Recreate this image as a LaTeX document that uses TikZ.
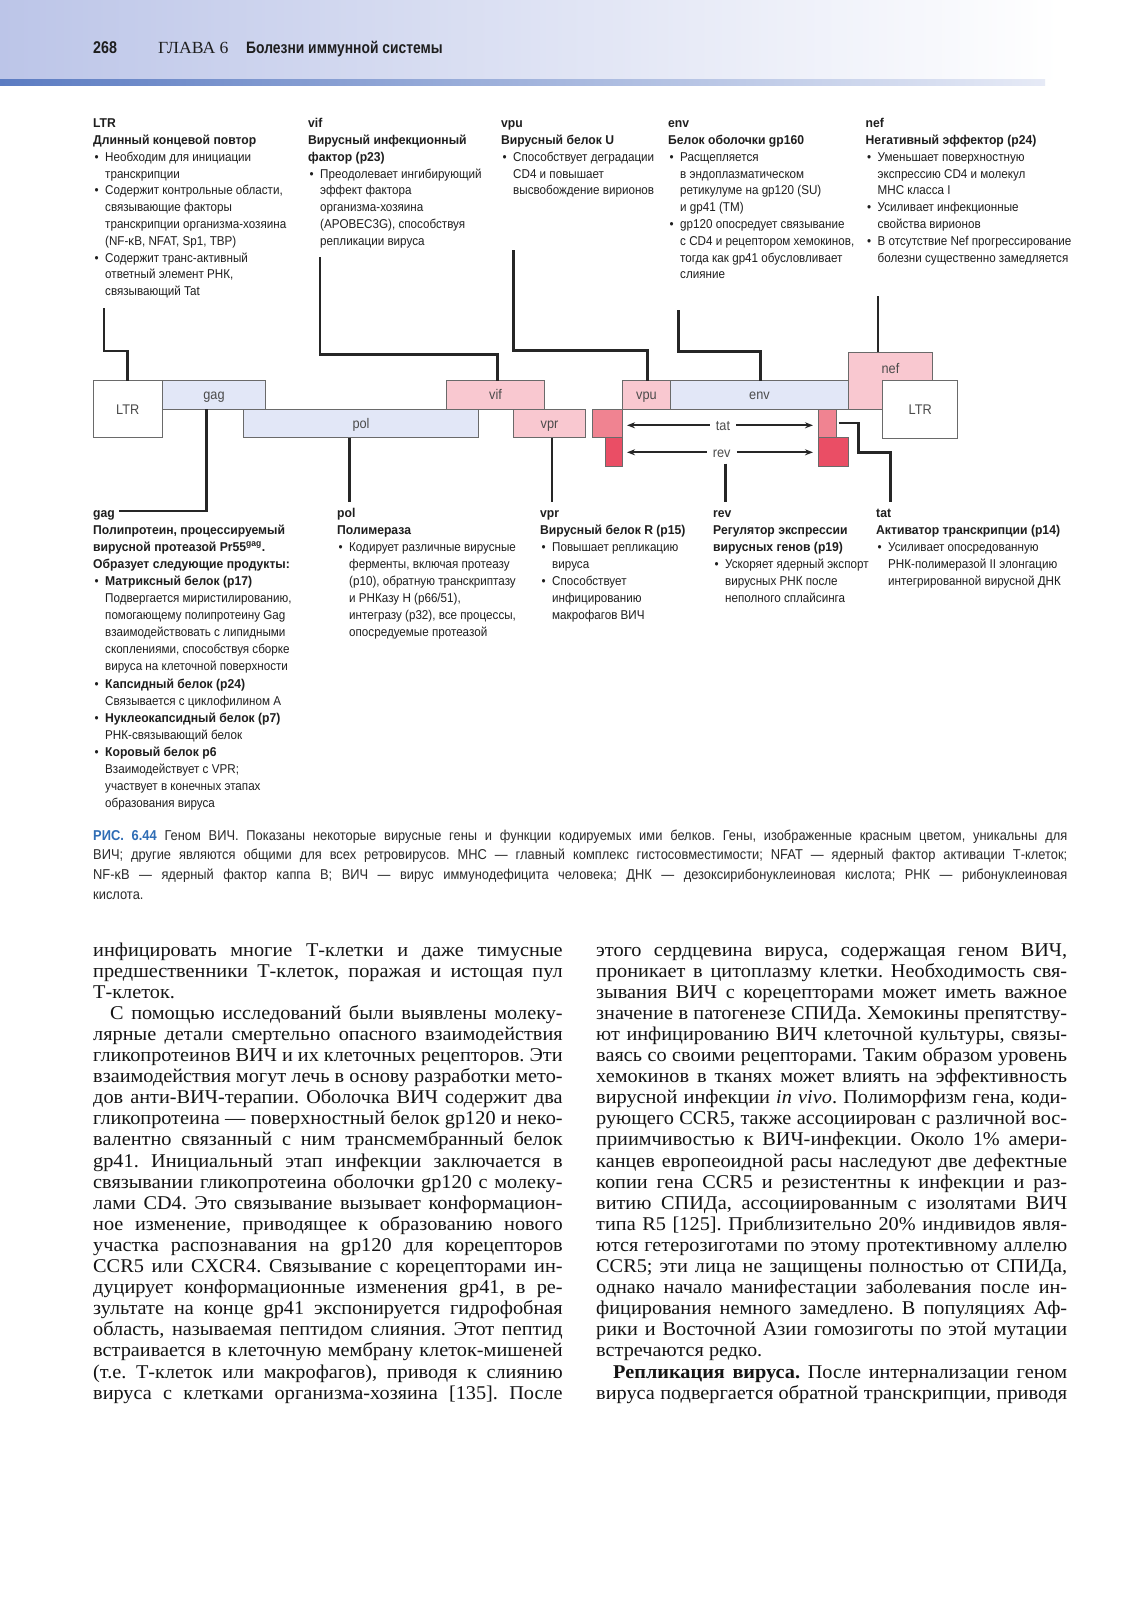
\documentclass[tikz,border=0pt]{standalone}
\usepackage{fontspec}
\setmainfont{Liberation Serif}[FakeStretch=1.04]
\newfontfamily\cond{Liberation Sans}[FakeStretch=0.91, BoldFeatures={FakeStretch=0.95}]
\newfontfamily\hdrf{Liberation Sans}[FakeStretch=0.84]
\newfontfamily\capf{Liberation Sans}[FakeStretch=0.9]
\usetikzlibrary{arrows.meta}
\definecolor{gblue}{HTML}{E2E7F7}
\definecolor{gpink}{HTML}{F9C8D0}
\definecolor{gtat}{HTML}{F08391}
\definecolor{grev}{HTML}{EA4E65}
\definecolor{boxgray}{HTML}{6A6A6A}
\definecolor{figtext}{HTML}{1E1E1E}
\definecolor{bodytext}{HTML}{141414}
\definecolor{captext}{HTML}{2A2A2A}
\definecolor{capblue}{HTML}{2F6DB5}
\definecolor{hdrL}{HTML}{BCC5E8}
\definecolor{barL}{HTML}{5C7CC2}
\definecolor{barR}{HTML}{E6EAF6}
\frenchspacing
\newcommand{\figfont}{\cond\fontsize{12.8}{16.8}\selectfont}
\newcommand{\botfont}{\cond\fontsize{12.8}{17.1}\selectfont}
\newcommand{\boxfont}{\cond\fontsize{14}{16}\selectfont}
\newcommand{\bodyfont}{\fontsize{19.5}{21.1}\selectfont}
\newcommand{\capfont}{\capf\fontsize{14.3}{19.8}\selectfont}
\newcommand{\bul}{\makebox[12pt][l]{\hspace{1.5pt}\textbullet}}
\newcommand{\hind}{\hspace*{12pt}}
\newcommand{\jl}[1]{\makebox[\linewidth][s]{#1}}
\newcommand{\jli}[1]{\hspace*{17pt}\makebox[\dimexpr\linewidth-17pt\relax][s]{#1}}
\begin{document}
\begin{tikzpicture}[x=1pt,y=-1pt,
  gbox/.style={draw=boxgray, line width=0.9pt, inner sep=0pt, outer sep=0pt, font=\boxfont, text=figtext!80, text height=10pt, text depth=0pt},
  boxtext/.style={inner sep=6pt, font=\boxfont, text=figtext!80, text height=10pt, text depth=0pt},
  conn/.style={line width=2.6pt, draw=black!85, line join=miter},
  arr/.style={line width=2.3pt, draw=black!85, -{Stealth[length=8pt,width=6pt]}},
  col/.style={anchor=base west, inner sep=0pt, text=figtext},
  bcol/.style={anchor=base west, inner sep=0pt, text=bodytext}]
\useasboundingbox (0,0) rectangle (1131,1601);
\fill[white] (0,0) rectangle (1131,1601);
% header
\shade[left color=hdrL, right color=white] (0,0) rectangle (1060,79);
\shade[left color=barL, right color=barR] (0,79) rectangle (1045,85);
\node[col] (pnum) at (93,53) {\hdrf\fontsize{17}{20}\selectfont\bfseries 268};
\node[col] (chap) at (158,53) {\fontsize{17}{20}\selectfont ГЛАВА 6};
\node[col] (ctitle) at (246,53) {\hdrf\fontsize{16.5}{20}\selectfont\bfseries Болезни иммунной системы};

% top text columns
\node[col] (ltrtxt) at (93,127.7) {\parbox[t]{200pt}{\figfont\raggedright
\textbf{LTR}\\
\textbf{Длинный концевой повтор}\\
\bul Необходим для инициации\\
\hind транскрипции\\
\bul Содержит контрольные области,\\
\hind связывающие факторы\\
\hind транскрипции организма-хозяина\\
\hind (NF-κB, NFAT, Sp1, TBP)\\
\bul Содержит транс-активный\\
\hind ответный элемент РНК,\\
\hind связывающий Tat}};
\node[col] (viftxt) at (308,127.7) {\parbox[t]{180pt}{\figfont\raggedright
\textbf{vif}\\
\textbf{Вирусный инфекционный}\\
\textbf{фактор (p23)}\\
\bul Преодолевает ингибирующий\\
\hind эффект фактора\\
\hind организма-хозяина\\
\hind (APOBEC3G), способствуя\\
\hind репликации вируса}};
\node[col] (vputxt) at (501,127.7) {\parbox[t]{160pt}{\figfont\raggedright
\textbf{vpu}\\
\textbf{Вирусный белок U}\\
\bul Способствует деградации\\
\hind CD4 и повышает\\
\hind высвобождение вирионов}};
\node[col] (envtxt) at (668,127.7) {\parbox[t]{200pt}{\figfont\raggedright
\textbf{env}\\
\textbf{Белок оболочки gp160}\\
\bul Расщепляется\\
\hind в эндоплазматическом\\
\hind ретикулуме на gp120 (SU)\\
\hind и gp41 (TM)\\
\bul gp120 опосредует связывание\\
\hind с CD4 и рецептором хемокинов,\\
\hind тогда как gp41 обусловливает\\
\hind слияние}};
\node[col] (neftxt) at (865.5,127.7) {\parbox[t]{220pt}{\figfont\raggedright
\textbf{nef}\\
\textbf{Негативный эффектор (p24)}\\
\bul Уменьшает поверхностную\\
\hind экспрессию CD4 и молекул\\
\hind MHC класса I\\
\bul Усиливает инфекционные\\
\hind свойства вирионов\\
\bul В отсутствие Nef прогрессирование\\
\hind болезни существенно замедляется}};

% gene map
\node[gbox, fill=white, minimum width=69.5pt, minimum height=57pt] (ltrL) at (127.75,409) {LTR};
\node[gbox, fill=gblue, minimum width=103pt, minimum height=28.5pt] (gag) at (214,394.75) {gag};
\node[gbox, fill=gblue, minimum width=235pt, minimum height=28.5pt] (pol) at (361,423.25) {pol};
\node[gbox, fill=gpink, minimum width=98pt, minimum height=28.5pt] (vif) at (495.5,394.75) {vif};
\node[gbox, fill=gpink, minimum width=72pt, minimum height=28.5pt] (vpr) at (549.5,423.25) {vpr};
\node[gbox, fill=gtat, minimum width=30.5pt, minimum height=28.5pt] (tatA) at (607.25,423.25) {};
\node[gbox, fill=grev, minimum width=17.5pt, minimum height=28.5pt] (revA) at (613.75,451.75) {};
\node[gbox, fill=gpink, minimum width=48pt, minimum height=28.5pt] (vpu) at (646.5,394.75) {vpu};
\node[gbox, fill=gblue, minimum width=178pt, minimum height=28.5pt] (env) at (759.5,394.75) {env};
\node[gbox, fill=gpink, minimum width=84pt, minimum height=57pt] (nef) at (890.5,380.5) {};
\node[boxtext] (neflbl) at (890.5,368) {nef};
\node[gbox, fill=white, minimum width=75pt, minimum height=57.5pt] (ltrR) at (920.25,409.25) {LTR};
\node[gbox, fill=gtat, minimum width=18.4pt, minimum height=28pt] (tatB) at (827.5,423) {};
\node[gbox, fill=grev, minimum width=30.4pt, minimum height=29pt] (revB) at (833.5,451.5) {};

\node[boxtext] (tatlbl) at (723,425.3) {tat};
\node[boxtext] (revlbl) at (721.7,452.3) {rev};
\coordinate (tatLend) at (627,425.3);
\coordinate (tatRend) at (813,425.3);
\coordinate (revLend) at (627,452.3);
\coordinate (revRend) at (813,452.3);
\draw[arr] (tatlbl.west) -- (tatLend);
\draw[arr] (tatlbl.east) -- (tatRend);
\draw[arr] (revlbl.west) -- (revLend);
\draw[arr] (revlbl.east) -- (revRend);

% top connectors
\coordinate (ltrS) at (104,308);
\coordinate (vifS) at (320,257);
\coordinate (vpuS) at (513.3,250);
\coordinate (envS) at (678.3,310);
\coordinate (nefS) at (878,296);
\draw[conn] (ltrS) -- (104,351) -| (ltrL.north);
\draw[conn] (vifS) -- (320,354.3) -| ([xshift=2pt]vif.north);
\draw[conn] (vpuS) -- (513.3,350.7) -| ([xshift=1pt]vpu.north);
\draw[conn] (envS) -- (678.3,351.7) -| ([xshift=1pt]env.north);
\draw[conn] (nefS) -- (nefS |- nef.north);

% bottom connectors
\coordinate (gagE) at (119,511);
\coordinate (polE) at (349.3,501.7);
\coordinate (vprE) at (552,501.7);
\coordinate (revE) at (725.3,501.7);
\coordinate (tatE) at (890.7,501.7);
\draw[conn] (206.7,0 |- gag.south) -- (206.7,511) -- (gagE);
\draw[conn] (polE |- pol.south) -- (polE);
\draw[conn] (vprE |- vpr.south) -- (vprE);
\draw[conn] (revE |- revlbl.south) -- (revE);
\draw[conn] ([xshift=2pt]tatB.east) -| (858.7,452.3) -| (tatE);

% bottom text columns
\node[col] (gagtxt) at (93,517) {\parbox[t]{230pt}{\botfont\raggedright
\textbf{gag}\\
\textbf{Полипротеин, процессируемый}\\
\textbf{вирусной протеазой Pr55\textsuperscript{gag}.}\\
\textbf{Образует следующие продукты:}\\
\bul\textbf{Матриксный белок (p17)}\\
\hind Подвергается миристилированию,\\
\hind помогающему полипротеину Gag\\
\hind взаимодействовать с липидными\\
\hind скоплениями, способствуя сборке\\
\hind вируса на клеточной поверхности\\
\bul\textbf{Капсидный белок (p24)}\\
\hind Связывается с циклофилином А\\
\bul\textbf{Нуклеокапсидный белок (p7)}\\
\hind РНК-связывающий белок\\
\bul\textbf{Коровый белок p6}\\
\hind Взаимодействует с VPR;\\
\hind участвует в конечных этапах\\
\hind образования вируса}};
\node[col] (poltxt) at (337,517) {\parbox[t]{190pt}{\botfont\raggedright
\textbf{pol}\\
\textbf{Полимераза}\\
\bul Кодирует различные вирусные\\
\hind ферменты, включая протеазу\\
\hind (p10), обратную транскриптазу\\
\hind и РНКазу H (p66/51),\\
\hind интегразу (p32), все процессы,\\
\hind опосредуемые протеазой}};
\node[col] (vprtxt) at (540,517) {\parbox[t]{170pt}{\botfont\raggedright
\textbf{vpr}\\
\textbf{Вирусный белок R (p15)}\\
\bul Повышает репликацию\\
\hind вируса\\
\bul Способствует\\
\hind инфицированию\\
\hind макрофагов ВИЧ}};
\node[col] (revtxt) at (713,517) {\parbox[t]{170pt}{\botfont\raggedright
\textbf{rev}\\
\textbf{Регулятор экспрессии}\\
\textbf{вирусных генов (p19)}\\
\bul Ускоряет ядерный экспорт\\
\hind вирусных РНК после\\
\hind неполного сплайсинга}};
\node[col] (tattxt) at (876,517) {\parbox[t]{200pt}{\botfont\raggedright
\textbf{tat}\\
\textbf{Активатор транскрипции (p14)}\\
\bul Усиливает опосредованную\\
\hind РНК-полимеразой II элонгацию\\
\hind интегрированной вирусной ДНК}};

% caption
\node[col, text=captext] (cap) at (93,840) {\parbox[t]{974pt}{\capfont
\jl{\textbf{\color{capblue}РИС. 6.44} Геном ВИЧ. Показаны некоторые вирусные гены и функции кодируемых ими белков. Гены, изображенные красным цветом, уникальны для}\\
\jl{ВИЧ; другие являются общими для всех ретровирусов. MHC — главный комплекс гистосовместимости; NFAT — ядерный фактор активации Т-клеток;}\\
\jl{NF-κB — ядерный фактор каппа B; ВИЧ — вирус иммунодефицита человека; ДНК — дезоксирибонуклеиновая кислота; РНК — рибонуклеиновая}\\
кислота.}};

% body text
\node[bcol] (bodyL) at (93,956) {\parbox[t]{469.5pt}{\bodyfont
\jl{инфицировать многие Т-клетки и даже тимусные}\\
\jl{предшественники Т-клеток, поражая и истощая пул}\\
Т-клеток.\\
\jli{С помощью исследований были выявлены молеку-}\\
\jl{лярные детали смертельно опасного взаимодействия}\\
\jl{гликопротеинов ВИЧ и их клеточных рецепторов. Эти}\\
\jl{взаимодействия могут лечь в основу разработки мето-}\\
\jl{дов анти-ВИЧ-терапии. Оболочка ВИЧ содержит два}\\
\jl{гликопротеина — поверхностный белок gp120 и неко-}\\
\jl{валентно связанный с ним трансмембранный белок}\\
\jl{gp41. Инициальный этап инфекции заключается в}\\
\jl{связывании гликопротеина оболочки gp120 с молеку-}\\
\jl{лами CD4. Это связывание вызывает конформацион-}\\
\jl{ное изменение, приводящее к образованию нового}\\
\jl{участка распознавания на gp120 для корецепторов}\\
\jl{CCR5 или CXCR4. Связывание с корецепторами ин-}\\
\jl{дуцирует конформационные изменения gp41, в ре-}\\
\jl{зультате на конце gp41 экспонируется гидрофобная}\\
\jl{область, называемая пептидом слияния. Этот пептид}\\
\jl{встраивается в клеточную мембрану клеток-мишеней}\\
\jl{(т.е. Т-клеток или макрофагов), приводя к слиянию}\\
\jl{вируса с клетками организма-хозяина [135]. После}}};
\node[bcol] (bodyR) at (596,956) {\parbox[t]{471pt}{\bodyfont
\jl{этого сердцевина вируса, содержащая геном ВИЧ,}\\
\jl{проникает в цитоплазму клетки. Необходимость свя-}\\
\jl{зывания ВИЧ с корецепторами может иметь важное}\\
\jl{значение в патогенезе СПИДа. Хемокины препятству-}\\
\jl{ют инфицированию ВИЧ клеточной культуры, связы-}\\
\jl{ваясь со своими рецепторами. Таким образом уровень}\\
\jl{хемокинов в тканях может влиять на эффективность}\\
\jl{вирусной инфекции \textit{in vivo}. Полиморфизм гена, коди-}\\
\jl{рующего CCR5, также ассоциирован с различной вос-}\\
\jl{приимчивостью к ВИЧ-инфекции. Около 1\% амери-}\\
\jl{канцев европеоидной расы наследуют две дефектные}\\
\jl{копии гена CCR5 и резистентны к инфекции и раз-}\\
\jl{витию СПИДа, ассоциированным с изолятами ВИЧ}\\
\jl{типа R5 [125]. Приблизительно 20\% индивидов явля-}\\
\jl{ются гетерозиготами по этому протективному аллелю}\\
\jl{CCR5; эти лица не защищены полностью от СПИДа,}\\
\jl{однако начало манифестации заболевания после ин-}\\
\jl{фицирования немного замедлено. В популяциях Аф-}\\
\jl{рики и Восточной Азии гомозиготы по этой мутации}\\
встречаются редко.\\
\jli{\textbf{Репликация вируса.} После интернализации геном}\\
\jl{вируса подвергается обратной транскрипции, приводя}}};
\end{tikzpicture}
\end{document}
